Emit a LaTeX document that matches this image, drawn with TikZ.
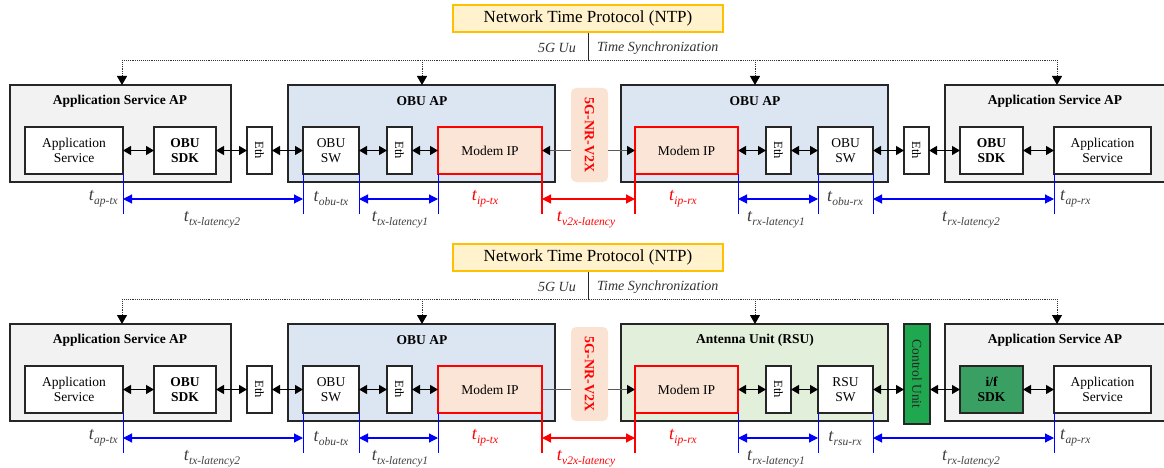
\documentclass[tikz,border=0pt]{standalone}
\usepackage{fontspec}
\setmainfont{Liberation Serif}
\usetikzlibrary{arrows.meta,calc}

\definecolor{apgray}{HTML}{F2F2F2}
\definecolor{obublue}{HTML}{DCE6F2}
\definecolor{rsugreen}{HTML}{E2EFDA}
\definecolor{modempeach}{HTML}{FBE5D6}
\definecolor{nrfill}{HTML}{FBE3D3}
\definecolor{ntpfill}{HTML}{FFF2CC}
\definecolor{ntpline}{HTML}{FFC000}
\definecolor{ctrlgreen}{HTML}{1FA84F}
\definecolor{sdkgreen}{HTML}{3A9F63}
\definecolor{labelgray}{HTML}{404040}
\definecolor{linkgray}{HTML}{595959}

% box from corner (x1,y1) to corner (x2,y2)
\newcommand\bx[7]{%
  \node[#6, minimum width={(#4)-(#2)}, minimum height={(#5)-(#3)}] (#1)
    at ({((#2)+(#4))/2},{((#3)+(#5))/2}) {#7};}
% timing symbol t with its subscript
\newcommand\tsym[1]{{\fontsize{18}{18}\selectfont\itshape t}\kern0.3pt\raisebox{-4pt}{\fontsize{11.5}{11.5}\selectfont\itshape #1}}

\begin{document}
\begin{tikzpicture}[x=1pt,y=-1pt,
  frame/.style={draw=black!85,line width=1.3pt,inner sep=0pt,outer sep=0pt},
  apbox/.style={frame,fill=apgray},
  obubox/.style={frame,fill=obublue},
  rsubox/.style={frame,fill=rsugreen},
  unit/.style={frame,fill=white,align=center,font=\fontsize{13.5}{15}\selectfont},
  boldunit/.style={unit,font=\fontsize{13.5}{15}\selectfont\bfseries},
  ethbox/.style={unit,font=\fontsize{12.5}{12.5}\selectfont},
  modem/.style={unit,draw=red},
  ctrlbox/.style={unit,fill=ctrlgreen,text=black!85},
  ifsdk/.style={boldunit,fill=sdkgreen},
  nrbox/.style={fill=nrfill,rounded corners=5pt,inner sep=0pt,text=red,font=\fontsize{14}{14}\selectfont\bfseries},
  ntpbox/.style={draw=ntpline,line width=1.5pt,fill=ntpfill,inner sep=0pt,font=\fontsize{17}{18}\selectfont},
  title/.style={inner sep=0pt,font=\fontsize{13.5}{14}\selectfont\bfseries},
  note/.style={inner sep=0pt,text=black!80,font=\fontsize{14}{14}\selectfont\itshape},
  link/.style={line width=1.3pt,{Triangle[length=8pt,width=9pt]}-{Triangle[length=8pt,width=9pt]}},
  radio/.style={draw=linkgray,line width=1.3pt},
  radioin/.style={radio,-{Triangle[length=8pt,width=9pt,color=black]}},
  bus/.style={draw=black!80,line width=0.9pt,densely dotted},
  drop/.style={bus,-{Triangle[length=9pt,width=10pt,fill=black,color=black]}},
  tick/.style={draw=blue,line width=1pt},
  tickred/.style={draw=red,line width=1.3pt},
  span/.style={draw=blue,line width=1.1pt,{Triangle[length=9pt,width=9pt]}-{Triangle[length=9pt,width=9pt]}},
  spanred/.style={draw=red,line width=1.3pt,{Triangle[length=9pt,width=9pt]}-{Triangle[length=9pt,width=9pt]}},
  tlab/.style={inner sep=0pt,text=labelgray},
  tlabred/.style={inner sep=0pt,text=red},
]
\useasboundingbox (0,0) rectangle (1164,468);
\fill[white] (0,0) rectangle (1164,468);
\clip (0,0) rectangle (1164,468);

% node names: prefix u = upper chain, d = lower chain
\foreach \p/\dy in {u/0,d/239}{
  % time source and synchronisation bus
  \bx{\p-ntp}{453}{5+\dy}{723}{32+\dy}{ntpbox}{Network Time Protocol (NTP)}
  \coordinate (\p-hub)  at (588,{60+\dy});
  \coordinate (\p-busW) at (122,{60+\dy});
  \coordinate (\p-busB) at (422,{60+\dy});
  \coordinate (\p-busC) at (755,{60+\dy});
  \coordinate (\p-busE) at (1057,{60+\dy});
  \draw[line width=1pt,black!85] (\p-ntp.south) -- (\p-hub);
  \draw[bus] (\p-busW) -- (\p-busE);
  \node[note,anchor=east] at (576,{48+\dy}) {5G Uu};
  \node[note,anchor=west] at (597,{48+\dy}) {Time Synchronization};

  % sender side
  \bx{\p-appL}{10}{85+\dy}{231}{182+\dy}{apbox}{}
  \node[title] at (120,{101+\dy}) {Application Service AP};
  \bx{\p-svcL}{25}{127+\dy}{123}{174+\dy}{unit}{Application\\Service}
  \bx{\p-sdkL}{154}{127+\dy}{216}{174+\dy}{boldunit}{OBU\\SDK}
  \bx{\p-ethA}{247}{127+\dy}{272}{174+\dy}{ethbox}{\rotatebox{-90}{Eth}}
  \bx{\p-obuL}{288}{85+\dy}{555}{182+\dy}{obubox}{}
  \node[title] at (422,{101+\dy}) {OBU AP};
  \bx{\p-swL}{303}{127+\dy}{359}{174+\dy}{unit}{OBU\\SW}
  \bx{\p-ethB}{387}{127+\dy}{412}{174+\dy}{ethbox}{\rotatebox{-90}{Eth}}
  \bx{\p-modL}{438}{127+\dy}{542}{174+\dy}{modem,fill=modempeach}{Modem IP}

  % radio link label
  \bx{\p-nr}{571}{88+\dy}{608}{182+\dy}{nrbox}{\rotatebox{-90}{5G-NR-V2X}}

  % receiver side application box
  \bx{\p-appR}{945}{85+\dy}{1170}{182+\dy}{apbox}{}
  \node[title] at (1055,{101+\dy}) {Application Service AP};
  \bx{\p-svcR}{1054}{127+\dy}{1151}{174+\dy}{unit}{Application\\Service}

  % synchronisation drops
  \draw[drop] (\p-busW) -- (\p-appL.north -| \p-busW);
  \draw[drop] (\p-busB) -- (\p-obuL.north -| \p-busB);
  \draw[drop] (\p-busE) -- (\p-appR.north -| \p-busE);
}

% ---- upper chain: OBU to OBU ----
\bx{u-mid}{621}{85}{888}{182}{obubox}{}
\node[title] at (755,101) {OBU AP};
\bx{u-modR}{635}{127}{738}{174}{modem,fill=modempeach}{Modem IP}
\bx{u-ethC}{766}{127}{791}{174}{ethbox}{\rotatebox{-90}{Eth}}
\bx{u-swR}{818}{127}{873}{174}{unit}{OBU\\SW}
\bx{u-gate}{904}{127}{929}{174}{ethbox}{\rotatebox{-90}{Eth}}
\bx{u-sdkR}{960}{127}{1023}{174}{boldunit}{OBU\\SDK}
\draw[drop] (u-busC) -- (u-mid.north -| u-busC);
\draw[radioin] (u-modL.east -| u-nr.west) -- (u-modL.east);
\draw[radioin] (u-modR.west -| u-nr.east) -- (u-modR.west);

% ---- lower chain: OBU to RSU ----
\bx{d-mid}{621}{85+239}{888}{182+239}{rsubox}{}
\node[title] at (755,340) {Antenna Unit (RSU)};
\bx{d-modR}{635}{127+239}{738}{174+239}{modem,fill=modempeach}{Modem IP}
\bx{d-ethC}{766}{127+239}{791}{174+239}{ethbox}{\rotatebox{-90}{Eth}}
\bx{d-swR}{818}{127+239}{873}{174+239}{unit}{RSU\\SW}
\bx{d-gate}{904}{85+239}{930}{185+239}{ctrlbox}{\rotatebox{-90}{Control Unit}}
\bx{d-sdkR}{960}{127+239}{1023}{174+239}{ifsdk}{i/f\\SDK}
\draw[drop] (d-busC) -- (d-mid.north -| d-busC);
\draw[radio] (d-modL.east) -- (d-modL.east -| d-nr.west);
\draw[radioin] (d-modR.west -| d-nr.east) -- (d-modR.west);

% ---- wired links and timing marks, both chains ----
\foreach \p/\dy/\rx in {u/0/obu-rx,d/239/rsu-rx}{
  \draw[link] (\p-svcL) -- (\p-sdkL);
  \draw[link] (\p-sdkL) -- (\p-ethA);
  \draw[link] (\p-ethA) -- (\p-swL);
  \draw[link] (\p-swL) -- (\p-ethB);
  \draw[link] (\p-ethB) -- (\p-modL);
  \draw[link] (\p-modR) -- (\p-ethC);
  \draw[link] (\p-ethC) -- (\p-swR);
  \draw[link] (\p-swR.east) -- (\p-swR.east -| \p-gate.west);
  \draw[link] (\p-sdkR.west -| \p-gate.east) -- (\p-sdkR.west);
  \draw[link] (\p-sdkR) -- (\p-svcR);

  \draw[tick] (\p-svcL.south east) -- ++(0,40);
  \draw[tick] (\p-swL.south west) -- ++(0,40);
  \draw[tick] (\p-swL.south east) -- ++(0,40);
  \draw[tick] (\p-modL.south west) -- ++(0,40);
  \draw[tickred] (\p-modL.south east) -- ++(0,40);
  \draw[tickred] (\p-modR.south west) -- ++(0,40);
  \draw[tick] (\p-modR.south east) -- ++(0,40);
  \draw[tick] (\p-swR.south west) -- ++(0,40);
  \draw[tick] (\p-swR.south east) -- ++(0,40);
  \draw[tick] (\p-svcR.south west) -- ++(0,40);

  \draw[span] ($(\p-svcL.south east)+(0,25)$) -- ($(\p-swL.south west)+(0,25)$);
  \draw[span] ($(\p-swL.south east)+(0,25)$) -- ($(\p-modL.south west)+(0,25)$);
  \draw[spanred] ($(\p-modL.south east)+(0,25)$) -- ($(\p-modR.south west)+(0,25)$);
  \draw[span] ($(\p-modR.south east)+(0,25)$) -- ($(\p-swR.south west)+(0,25)$);
  \draw[span] ($(\p-swR.south east)+(0,25)$) -- ($(\p-svcR.south west)+(0,25)$);

  \node[tlab,anchor=east] at (118,{199+\dy}) {\tsym{ap-tx}};
  \node[tlab] at (331,{199+\dy}) {\tsym{obu-tx}};
  \node[tlab] at (212,{220+\dy}) {\tsym{tx-latency2}};
  \node[tlab] at (400,{220+\dy}) {\tsym{tx-latency1}};
  \node[tlabred] at (485,{199+\dy}) {\tsym{ip-tx}};
  \node[tlabred] at (586,{220+\dy}) {\tsym{v2x-latency}};
  \node[tlabred] at (683,{199+\dy}) {\tsym{ip-rx}};
  \node[tlab] at (776,{220+\dy}) {\tsym{rx-latency1}};
  \node[tlab] at (845,{199+\dy}) {\tsym{\rx}};
  \node[tlab] at (971,{220+\dy}) {\tsym{rx-latency2}};
  \node[tlab,anchor=west] at (1060,{199+\dy}) {\tsym{ap-rx}};
}
\end{tikzpicture}
\end{document}
